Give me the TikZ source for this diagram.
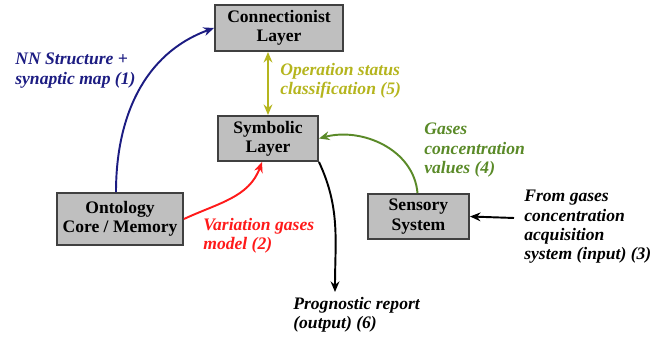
\documentclass[tikz,border=0pt]{standalone}
\usepackage{fontspec}
\setmainfont{Liberation Serif}
\newfontfamily\timesfont{Liberation Serif}
\usepackage{xcolor}
\usepackage{tikz}
\usetikzlibrary{arrows.meta}

\definecolor{nnblue}{HTML}{1C1C82}
\definecolor{opyellow}{HTML}{B5B51E}
\definecolor{gasgreen}{HTML}{5A8A28}
\definecolor{varred}{HTML}{FF1A1A}

\begin{document}
\begin{tikzpicture}[
  box/.style={rectangle, draw=black!75, line width=1.1pt, fill=black!25, align=center, font=\timesfont\fontsize{10}{11}\selectfont\bfseries, inner sep=2pt},
  arrow/.style={->, >={Stealth[length=6pt,width=5pt]}, line width=1.1pt},
  lab/.style={font=\timesfont\fontsize{10}{11}\selectfont\bfseries\itshape, align=left, anchor=north west, inner sep=0pt}
]
\useasboundingbox (0,0) rectangle (13.42,6.88);

% Layers
\node[box, minimum width=2.56cm, minimum height=0.92cm] (conn) at (5.58,6.32) {Connectionist\\Layer};
\node[box, minimum width=2.0cm, minimum height=0.9cm] (symb) at (5.36,4.11) {Symbolic\\Layer};

% Ontology and sensors
\node[box, minimum width=2.52cm, minimum height=1.04cm] (onto) at (2.40,2.50) {Ontology\\Core / Memory};
\node[box, minimum width=2.02cm, minimum height=0.9cm] (sens) at (8.37,2.55) {Sensory\\System};

% Labels
\node[lab, text=nnblue] (nnlab) at (0.30,5.82) {NN Structure +\\synaptic map (1)};
\node[lab, text=opyellow] (oplab) at (5.60,5.62) {Operation status\\classification (5)};
\node[lab, text=gasgreen] (gaslab) at (8.48,4.42) {Gases\\concentration\\values (4)};
\node[lab, text=varred] (varlab) at (4.06,2.52) {Variation gases\\model (2)};
\node[lab] (fromlab) at (10.48,3.08) {From gases\\concentration\\acquisition\\system (input) (3)};
\node[lab] (proglab) at (5.86,0.94) {Prognostic report\\(output) (6)};
\coordinate (inp) at (10.28,2.52);
\coordinate (outp) at (6.70,1.04);

% Connections
\draw[arrow, nnblue] ([xshift=-0.08cm]onto.north) to[out=90, in=200] (conn.west);
\draw[arrow, opyellow, <->] (conn.south -| symb) -- (symb.north);
\draw[arrow, gasgreen] ([xshift=-0.02cm]sens.north) to[out=95, in=15] (symb.east);
\draw[arrow, varred] (onto.east) to[out=25, in=250] ([xshift=-0.12cm]symb.south);
\draw[arrow] (symb.south east) to[out=-65, in=90] (outp);
\draw[arrow] (inp) -- (sens.east);

\end{tikzpicture}
\end{document}
